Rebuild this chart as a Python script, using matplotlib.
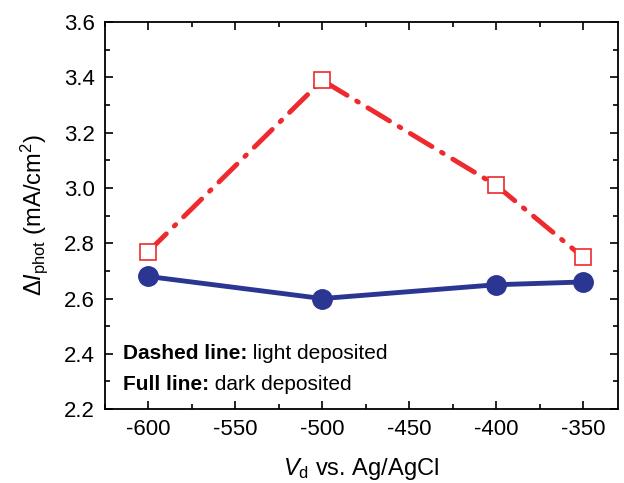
import numpy as np
import matplotlib
matplotlib.use("Agg")
import matplotlib.pyplot as plt
from matplotlib.ticker import MultipleLocator, FormatStrFormatter

plt.rcParams['font.family'] = ['Liberation Sans', 'DejaVu Sans']
plt.rcParams['mathtext.fontset'] = 'custom'
plt.rcParams['mathtext.it'] = 'Liberation Sans:italic'
plt.rcParams['mathtext.rm'] = 'Liberation Sans'
plt.rcParams['axes.unicode_minus'] = False

# Deposition potential (mV)
v_dep = [-600, -500, -400, -350]
# Photocurrent change (mA/cm2)
light_dep = [2.77, 3.39, 3.01, 2.75]
dark_dep = [2.68, 2.60, 2.65, 2.66]

red = '#ee2a2f'
blue = '#2b3592'

fig = plt.figure(figsize=(6.24, 4.83), dpi=100)
ax = fig.add_axes([0.168, 0.153, 0.822, 0.801])

ax.plot(v_dep, light_dep, color=red, lw=3.5, dashes=(5.2, 2.3, 0.4, 2.3),
        dash_capstyle='round', marker='s', ms=11.5, mfc='white', mec=red, mew=1.2)
ax.plot(v_dep, dark_dep, color=blue, lw=3.5, marker='o', ms=14, mfc=blue, mec=blue)

ax.set_xlim(-625, -330)
ax.set_ylim(2.2, 3.6)
ax.xaxis.set_major_locator(MultipleLocator(50))
ax.xaxis.set_minor_locator(MultipleLocator(25))
ax.yaxis.set_major_locator(MultipleLocator(0.2))
ax.yaxis.set_minor_locator(MultipleLocator(0.1))
ax.yaxis.set_major_formatter(FormatStrFormatter('%.1f'))
ax.tick_params(which='both', direction='in', top=True, right=True, labelsize=16, width=1.2)
ax.tick_params(which='major', length=6, pad=7)
ax.tick_params(which='minor', length=3.5)
for sp in ax.spines.values():
    sp.set_linewidth(1.3)

ax.set_xlabel(r'$V_{\rm d}$ vs. Ag/AgCl', fontsize=17, labelpad=12)
ax.set_ylabel('Δ' + r'$I_{\rm phot}$ (mA/cm$^2$)', fontsize=17, labelpad=10)

t1 = ax.text(0.035, 0.13, 'Dashed line:', transform=ax.transAxes, fontsize=15, fontweight='bold')
ax.annotate(' light deposited', xy=(1, 0), xycoords=t1, va='bottom', fontsize=15)
t2 = ax.text(0.035, 0.05, 'Full line:', transform=ax.transAxes, fontsize=15, fontweight='bold')
ax.annotate(' dark deposited', xy=(1, 0), xycoords=t2, va='bottom', fontsize=15)

fig.savefig('out.png', dpi=100)
